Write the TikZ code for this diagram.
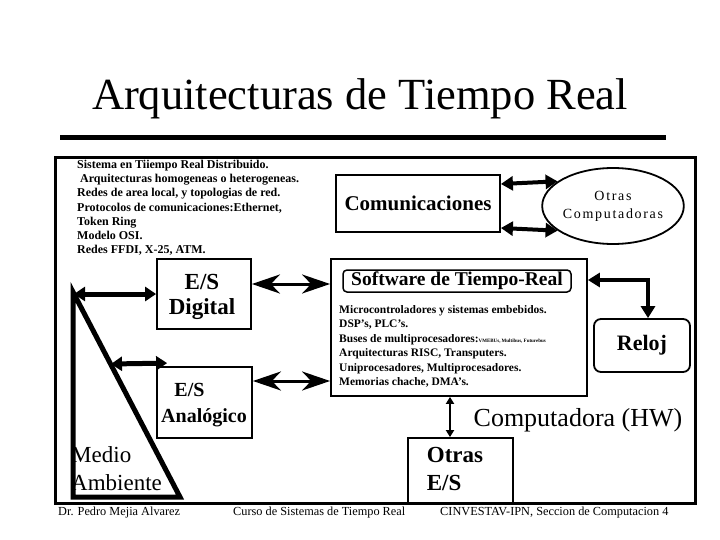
\documentclass[tikz,border=0pt]{standalone}
\usepackage{fontspec}
\setmainfont{Liberation Serif}
\newfontfamily\spacedserif{Liberation Serif}[LetterSpace=12]
\usetikzlibrary{arrows.meta,shapes.geometric,calc}
\tikzset{
  box/.style={draw, line width=1.8pt, inner sep=0pt, align=center},
  bigarrow/.style={line width=3pt, {Stealth[length=28pt,width=19pt,inset=9pt]}-{Stealth[length=28pt,width=19pt,inset=9pt]}},
  comarrow/.style={line width=4pt, {Triangle[length=12pt,width=14pt]}-{Triangle[length=12pt,width=14pt]}},
  envarrow/.style={line width=5pt, {Triangle[length=11pt,width=14pt]}-{Triangle[length=11pt,width=14pt]}},
  thinarrow/.style={line width=2pt, {Triangle[length=7pt,width=8pt]}-{Triangle[length=7pt,width=8pt]}},
  bodytext/.style={align=left, inner sep=0pt, font=\fontsize{11.5}{14.5}\selectfont\bfseries},
  lbl/.style={align=center, inner sep=0pt},
  foot/.style={inner sep=0pt, font=\fontsize{12.3}{14}\selectfont}
}
\begin{document}
\begin{tikzpicture}[x=1pt,y=-1pt]
\useasboundingbox (0,0) rectangle (720,540);
% title
\node (title) at (360,99) {\fontsize{44.5}{50}\selectfont Arquitecturas de Tiempo Real};
\coordinate (rl) at (60,138);
\coordinate (rr) at (666,138);
\draw[line width=5pt] (rl) -- (rr);
% frame
\coordinate (f1) at (55,158);
\coordinate (f2) at (695,503);
\draw[line width=3pt] (f1) rectangle (f2);
% top-left text
\node[align=left, inner sep=0pt, anchor=north west, font=\fontsize{12}{14.2}\selectfont\bfseries] (dist) at (77,160) {Sistema en Tiiempo Real Distribuido.\\
\ Arquitecturas homogeneas o heterogeneas.\\
Redes de area local, y topologias de red.\\
Protocolos de comunicaciones:Ethernet,\\
Token Ring\\
Modelo OSI.\\
Redes FFDI, X-25, ATM.};
% Comunicaciones
\node[box, minimum width=164pt, minimum height=57pt, font=\fontsize{21}{24}\selectfont\bfseries] (com) at (418,203.5) {Comunicaciones};
\node[draw, ellipse, line width=1.8pt, minimum width=120pt, minimum height=76pt, inner sep=0pt, align=center, font=\fontsize{14}{18}\selectfont\spacedserif] (oc) at (613,206) {Otras\\Computadoras};
\draw[comarrow] ([yshift=19.5pt]com.east) -- (oc.156);
\draw[comarrow] ([yshift=-24.5pt]com.east) -- (oc.204);
% E/S boxes
\node[box, minimum width=94pt, minimum height=70pt] (esd) at (204,294) {};
\node[lbl, font=\fontsize{23}{25}\selectfont\bfseries] (esdt) at (202,297) {E/S\\Digital};
\node[box, minimum width=95pt, minimum height=71pt] (esa) at (204.5,402.5) {};
\node[lbl, font=\fontsize{20}{26}\selectfont\bfseries] (esat) at (204,405) {\hspace*{-29pt}E/S\\Analógico};
% Software box
\node[box, minimum width=256pt, minimum height=137pt] (sw) at (459,327.5) {};
\node[draw, line width=1.5pt, rounded corners=4pt, minimum width=228pt, minimum height=22pt, inner sep=0pt, font=\fontsize{19.5}{20}\selectfont\bfseries] (swt) at (457,281) {Software de Tiempo-Real};
\node[bodytext, anchor=north west] (hw) at (339,305) {Microcontroladores y sistemas embebidos.\\
DSP's, PLC's.\\
Buses de multiprocesadores:{\fontsize{5}{6}\selectfont VMEBUs, Multibus, Futurebus}\\
Arquitecturas RISC, Transputers.\\
Uniprocesadores, Multiprocesadores.\\
Memorias chache, DMA's.};
% Reloj
\node[box, rounded corners=7pt, minimum width=96pt, minimum height=53pt, font=\fontsize{22}{24}\selectfont\bfseries] (reloj) at (642,345.5) {Reloj};
% Otras E/S
\node[box, minimum width=105pt, minimum height=65pt] (oes) at (460.5,470.5) {};
\node[align=left, inner sep=0pt, font=\fontsize{23}{28}\selectfont\bfseries] (oest) at (455,469) {Otras\\E/S};
% Computadora
\node[font=\fontsize{26}{28}\selectfont, inner sep=0pt] (comp) at (578,420) {Computadora (HW)};
% Medio ambiente
\coordinate (ma1) at (73,292);
\coordinate (ma2) at (73,497);
\coordinate (ma3) at (180,497);
\draw[line width=5pt, line join=miter] (ma1) -- (ma2) -- (ma3) -- cycle;
\node[align=left, anchor=west, inner sep=0pt, font=\fontsize{23}{28}\selectfont] (matext) at (71,469) {Medio\\Ambiente};
% connectors
\coordinate (d1) at (74,294);
\coordinate (d2) at (111,364);
\draw[envarrow] (d1) -- (esd.west);
\draw[envarrow] (d2) -- ([xshift=11pt,yshift=3pt]esa.north west);
\draw[bigarrow] ([yshift=10pt]esd.east) -- ([yshift=10pt]esd.east -| sw.west);
\draw[bigarrow] ([yshift=21.5pt]esa.east) -- ([yshift=21.5pt]esa.east -| sw.west);
\draw[comarrow, line width=3.5pt] ([yshift=47.5pt]sw.east) -| ([xshift=6pt]reloj.north);
\draw[thinarrow] ([xshift=-9pt]sw.south) -- ([xshift=-9pt]sw.south |- oes.north);
% footer
\node[foot, anchor=west] (f1t) at (58,513) {Dr. Pedro Mejia Alvarez};
\node[foot, anchor=west] (f2t) at (233,513) {Curso de Sistemas de Tiempo Real};
\node[foot, anchor=west] (f3t) at (440,513) {CINVESTAV-IPN, Seccion de Computacion 4};
\end{tikzpicture}
\end{document}
